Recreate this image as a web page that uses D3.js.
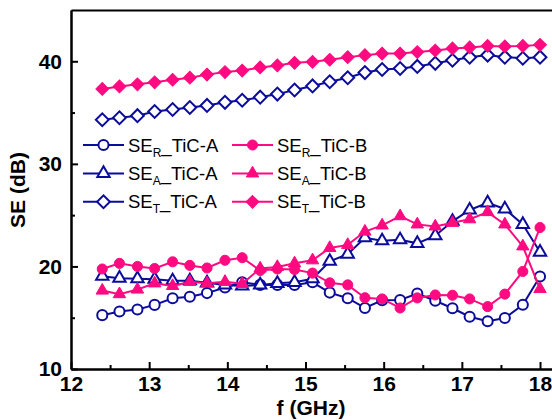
<!DOCTYPE html>
<html>
<head>
<meta charset="utf-8">
<script src="https://cdn.jsdelivr.net/npm/d3@7"></script>
<style>
	body { margin: 0; background: #fff; }
	svg text { font-family: "Liberation Sans", Arial, sans-serif; }
</style>
</head>
<body>
<script>
// frequency points (GHz)
const freq = [12.40, 12.62, 12.85, 13.07, 13.30, 13.52, 13.74, 13.97, 14.19, 14.42, 14.64, 14.86, 15.09,
	15.31, 15.54, 15.76, 15.98, 16.21, 16.43, 16.66, 16.88, 17.10, 17.33, 17.55, 17.78, 18.00];

const seR_A = [15.25, 15.6, 15.8, 16.25, 16.9, 17.05, 17.4, 17.95, 18.45, 18.2, 18.2, 18.2, 18.45,
	17.45, 16.9, 15.95, 16.7, 16.73, 17.35, 16.65, 15.92, 15.1, 14.65, 14.97, 16.27, 19.02];
const seA_A = [19.05, 18.85, 18.8, 18.75, 18.6, 18.6, 18.4, 18.2, 18.1, 18.2, 18.35, 18.45, 18.8,
	20.5, 21.2, 22.8, 22.5, 22.6, 22.25, 23.0, 24.4, 25.5, 26.2, 25.6, 24.1, 21.4];
const seT_A = [34.3, 34.5, 34.7, 35.1, 35.3, 35.5, 35.7, 36.0, 36.2, 36.5, 36.8, 37.2, 37.6,
	38.0, 38.4, 38.9, 39.2, 39.3, 39.5, 39.8, 40.1, 40.4, 40.6, 40.4, 40.3, 40.4];

const seR_B = [19.75, 20.3, 20.0, 19.8, 20.45, 20.1, 19.85, 20.6, 20.85, 19.6, 19.75, 19.7, 19.35,
	18.4, 18.2, 16.95, 16.83, 15.95, 16.93, 17.22, 17.19, 16.83, 16.08, 17.3, 19.51, 23.79];
const seA_B = [17.65, 17.3, 17.75, 18.35, 18.1, 18.5, 18.35, 18.5, 18.3, 19.8, 19.95, 20.3, 20.6,
	21.8, 22.1, 23.4, 24.0, 24.9, 24.1, 23.9, 24.25, 24.6, 25.3, 24.1, 21.96, 17.8];
const seT_B = [37.3, 37.55, 37.75, 37.95, 38.2, 38.4, 38.7, 38.95, 39.1, 39.4, 39.6, 39.85, 39.95,
	40.15, 40.4, 40.6, 40.75, 40.75, 40.9, 41.05, 41.25, 41.35, 41.5, 41.45, 41.5, 41.6];

const xTicks = [12, 13, 14, 15, 16, 17, 18];
const xMinor = [12.5, 13.5, 14.5, 15.5, 16.5, 17.5];
const yTicks = [10, 20, 30, 40];
const yMinor = [15, 25, 35];

const blue = "#0c0c9c";
const pink = "#ff0a80";

const series = [
	{ sub: "R", name: "TiC-A", values: seR_A, color: blue, shape: "circle", filled: false },
	{ sub: "A", name: "TiC-A", values: seA_A, color: blue, shape: "triangle", filled: false },
	{ sub: "T", name: "TiC-A", values: seT_A, color: blue, shape: "diamond", filled: false },
	{ sub: "R", name: "TiC-B", values: seR_B, color: pink, shape: "circle", filled: true },
	{ sub: "A", name: "TiC-B", values: seA_B, color: pink, shape: "triangle", filled: true },
	{ sub: "T", name: "TiC-B", values: seT_B, color: pink, shape: "diamond", filled: true }
];

const width = 552, height = 420;
const plotLeft = 71, plotBottom = 369, plotTop = 10;

const svg = d3.select("body").append("svg").attr("width", width).attr("height", height);

const x = d3.scaleLinear().domain([12, 18.8]).range([plotLeft, plotLeft + 6.8 * 78.17]);
const y = d3.scaleLinear().domain([10, 45]).range([plotBottom, plotTop]);

const symbolFor = (shape) => {
	if (shape === "circle") return d3.symbol(d3.symbolCircle, 80)();
	if (shape === "triangle") return d3.symbol(d3.symbolTriangle, 66)();
	return d3.symbol(d3.symbolSquare, 82)();
};
const rotFor = (shape) => (shape === "diamond" ? " rotate(45)" : "");

// lines and markers
const line = d3.line().x((d, i) => x(freq[i])).y((d) => y(d));
series.forEach((s) => {
	const g = svg.append("g");
	g.append("path")
		.attr("d", line(s.values))
		.attr("fill", "none")
		.attr("stroke", s.color)
		.attr("stroke-width", 2);
	g.selectAll("path.mk")
		.data(s.values)
		.enter()
		.append("path")
		.attr("class", "mk")
		.attr("d", symbolFor(s.shape))
		.attr("transform", (d, i) => "translate(" + x(freq[i]) + "," + y(d) + ")" + rotFor(s.shape))
		.attr("fill", s.filled ? s.color : "#fff")
		.attr("stroke", s.color)
		.attr("stroke-width", s.filled ? 1 : 2);
});

// axes
const styleAxis = (g) => {
	g.select(".domain").attr("stroke", "#000").attr("stroke-width", 2);
	g.selectAll(".tick line").attr("stroke", "#000").attr("stroke-width", 2);
	g.selectAll("text")
		.attr("fill", "#000")
		.style("font-size", "21px")
		.style("font-weight", "bold")
		.style("font-family", "'Liberation Sans', Arial, sans-serif");
};

svg.append("g")
	.attr("transform", "translate(0," + plotBottom + ")")
	.call(d3.axisBottom(x).tickValues(xTicks).tickSize(-7).tickSizeOuter(0).tickPadding(7).tickFormat(d3.format("d")))
	.call(styleAxis);
svg.append("g")
	.attr("transform", "translate(0," + plotBottom + ")")
	.call(d3.axisBottom(x).tickValues(xMinor).tickSize(-4).tickSizeOuter(0).tickFormat(""))
	.call(styleAxis);
svg.append("g")
	.attr("transform", "translate(" + plotLeft + ",0)")
	.call(d3.axisLeft(y).tickValues(yTicks).tickSize(-7).tickSizeOuter(0).tickPadding(9).tickFormat(d3.format("d")))
	.call(styleAxis);
svg.append("g")
	.attr("transform", "translate(" + plotLeft + ",0)")
	.call(d3.axisLeft(y).tickValues(yMinor).tickSize(-4).tickSizeOuter(0).tickFormat(""))
	.call(styleAxis);
svg.append("g")
	.attr("transform", "translate(0," + plotTop + ")")
	.call(d3.axisTop(x).tickValues([]).tickSizeOuter(0))
	.call(styleAxis);

// axis titles
svg.append("text")
	.attr("x", 311)
	.attr("y", 415)
	.attr("text-anchor", "middle")
	.style("font-size", "21px")
	.style("font-weight", "bold")
	.text("f (GHz)");
svg.append("text")
	.attr("transform", "translate(25,190) rotate(-90)")
	.attr("text-anchor", "middle")
	.style("font-size", "21px")
	.style("font-weight", "bold")
	.text("SE (dB)");

// legend
const legend = svg.append("g");
series.forEach((s, i) => {
	const col = i < 3 ? 0 : 1;
	const row = i % 3;
	const lx = col === 0 ? 83 : 232;
	const ly = 145 + row * 28.4;
	legend.append("line")
		.attr("x1", lx).attr("x2", lx + 41)
		.attr("y1", ly).attr("y2", ly)
		.attr("stroke", s.color).attr("stroke-width", 2);
	legend.append("path")
		.attr("d", symbolFor(s.shape))
		.attr("transform", "translate(" + (lx + 20.5) + "," + ly + ")" + rotFor(s.shape))
		.attr("fill", s.filled ? s.color : "#fff")
		.attr("stroke", s.color)
		.attr("stroke-width", s.filled ? 1 : 2);
	const t = legend.append("text")
		.attr("x", lx + 45)
		.attr("y", ly + 6.5)
		.style("font-size", "18.5px")
		.attr("fill", "#000");
	t.append("tspan").text("SE");
	t.append("tspan").attr("dy", 5).style("font-size", "12px").text(s.sub);
	t.append("tspan").attr("dy", -5).text("_" + s.name);
});
</script>
</body>
</html>
